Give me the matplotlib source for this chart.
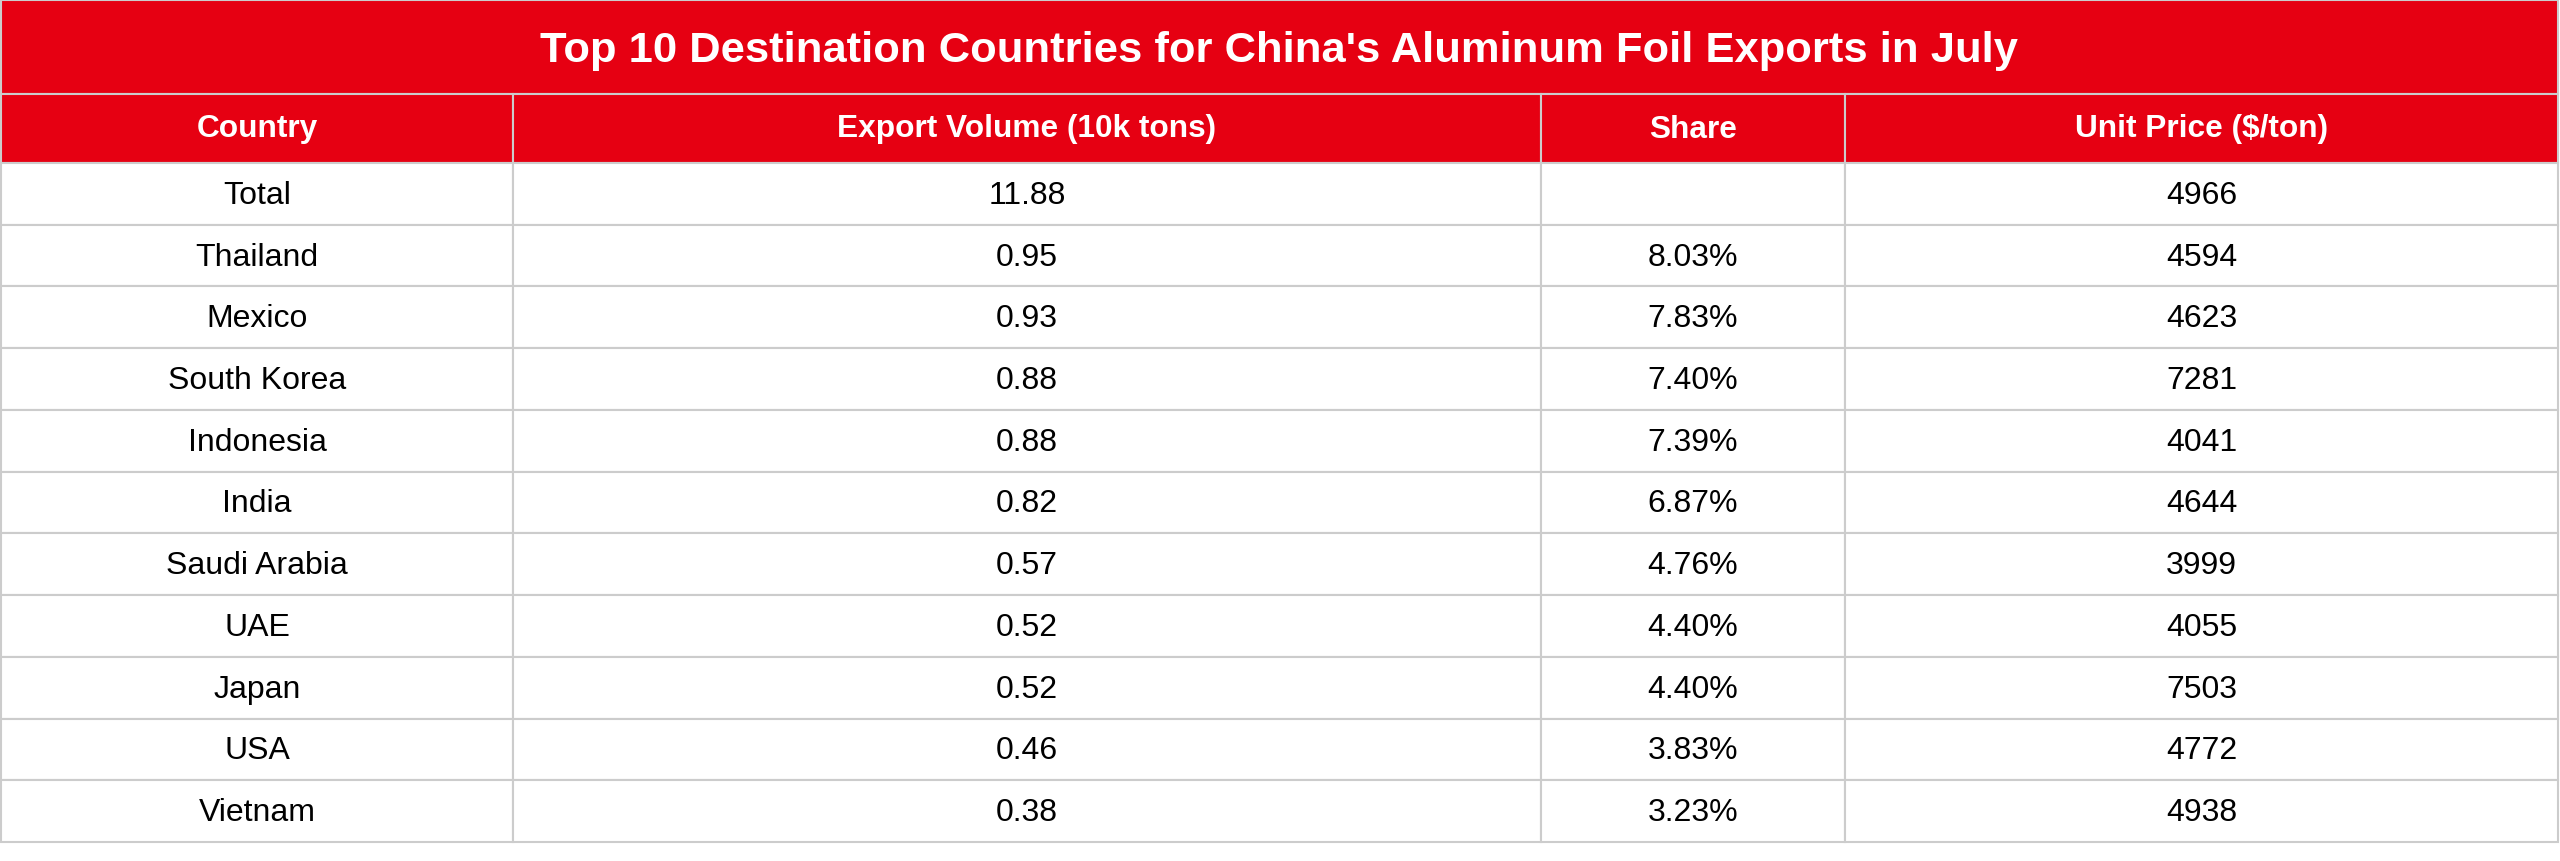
import matplotlib.pyplot as plt
from matplotlib.patches import Rectangle

title = "Top 10 Destination Countries for China's Aluminum Foil Exports in July"
headers = ["Country", "Export Volume (10k tons)", "Share", "Unit Price ($/ton)"]
countries = ["Total", "Thailand", "Mexico", "South Korea", "Indonesia", "India",
             "Saudi Arabia", "UAE", "Japan", "USA", "Vietnam"]
volumes = ["11.88", "0.95", "0.93", "0.88", "0.88", "0.82", "0.57", "0.52", "0.52", "0.46", "0.38"]
shares = ["", "8.03%", "7.83%", "7.40%", "7.39%", "6.87%", "4.76%", "4.40%", "4.40%", "3.83%", "3.23%"]
prices = ["4966", "4594", "4623", "7281", "4041", "4644", "3999", "4055", "7503", "4772", "4938"]

red = "#e60012"
grid = "#cccccc"
plt.rcParams['font.family'] = ['Liberation Sans', 'DejaVu Sans']

fig = plt.figure(figsize=(25.6, 8.62), dpi=100)
ax = fig.add_axes([0, 0, 1, 1])
ax.set_xlim(0, 2560)
ax.set_ylim(862, 0)
ax.axis('off')

col_x = [1, 513, 1541, 1845, 2558]
top, title_bot, head_bot, bottom = 1, 95, 164, 843
n = len(countries)
row_h = (bottom - head_bot) / n

# title band
ax.add_patch(Rectangle((col_x[0], top), col_x[-1] - col_x[0], title_bot - top,
                       facecolor=red, edgecolor=grid, lw=1.5))
ax.text((col_x[0] + col_x[-1]) / 2, (top + title_bot) / 2 + 3, title, color="white",
        fontsize=31.3, fontweight="bold", ha="center", va="center")

# header
for j, h in enumerate(headers):
    ax.add_patch(Rectangle((col_x[j], title_bot), col_x[j + 1] - col_x[j], head_bot - title_bot,
                           facecolor=red, edgecolor=grid, lw=1.5))
    ax.text((col_x[j] + col_x[j + 1]) / 2, (title_bot + head_bot) / 2, h, color="white",
            fontsize=22.8, fontweight="bold", ha="center", va="center")

# body
columns = [countries, volumes, shares, prices]
for i in range(n):
    y0 = head_bot + i * row_h
    for j, col in enumerate(columns):
        ax.add_patch(Rectangle((col_x[j], y0), col_x[j + 1] - col_x[j], row_h,
                               facecolor="white", edgecolor=grid, lw=1.5))
        ax.text((col_x[j] + col_x[j + 1]) / 2, y0 + row_h / 2 + 1, col[i], color="black",
                fontsize=23, ha="center", va="center")

fig.savefig("out.png", dpi=100, facecolor="white")
